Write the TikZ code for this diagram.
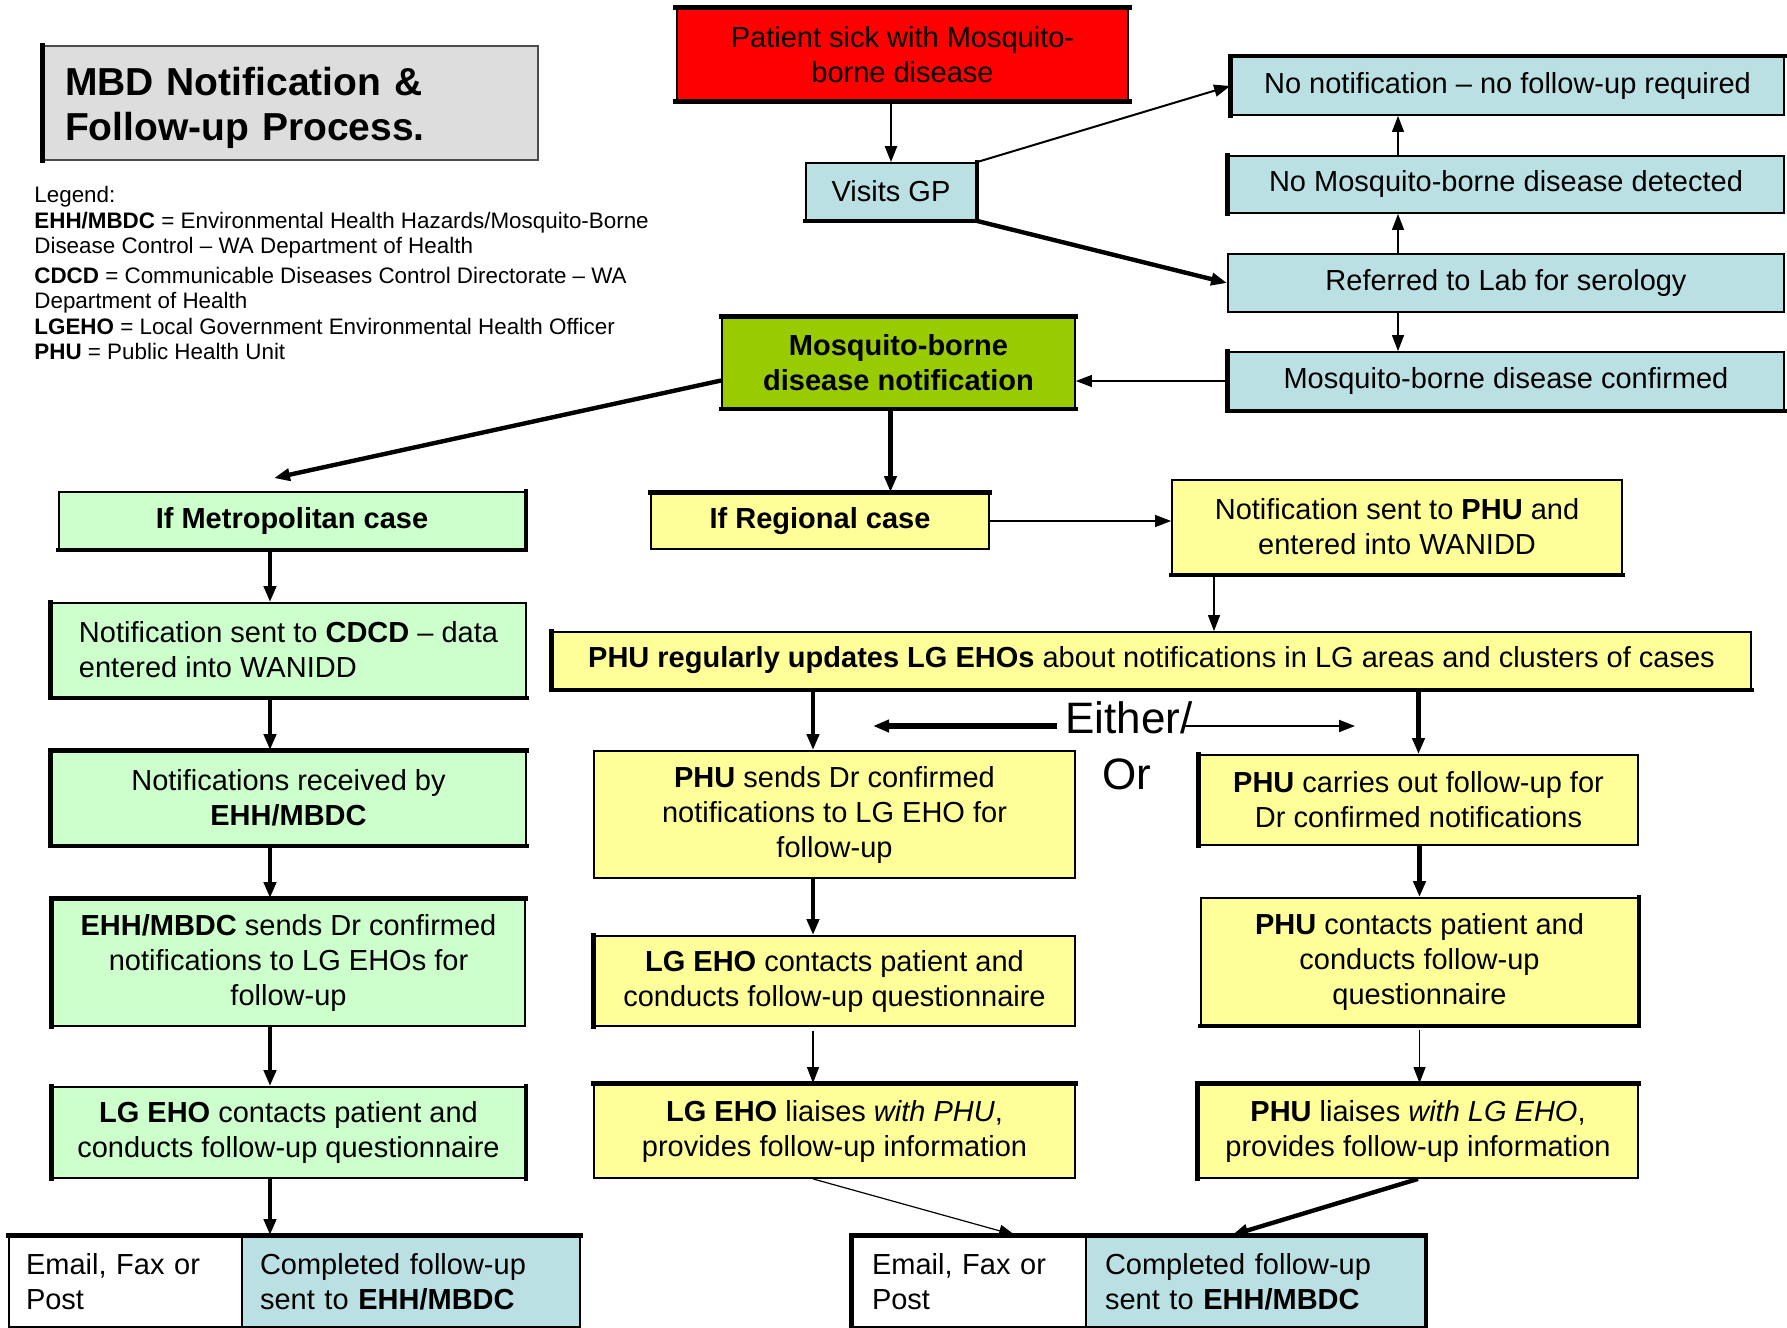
\documentclass[tikz,border=0pt]{standalone}
\usepackage{fontspec}
\setmainfont{Liberation Sans}
\usetikzlibrary{arrows.meta}
\definecolor{cred}{HTML}{FF0000}
\definecolor{cblue}{HTML}{BBE0E3}
\definecolor{clime}{HTML}{99CC00}
\definecolor{cgreen}{HTML}{CCFFCC}
\definecolor{cyellow}{HTML}{FFFF99}
\definecolor{cgray}{HTML}{DDDDDD}
\newcommand\boxfont{\fontsize{14.5}{17.5}\selectfont}
\begin{document}
\begin{tikzpicture}[x=0.5pt,y=-0.5pt,
  box/.style={draw=black, line width=0.9pt, align=center, inner sep=2pt, font=\boxfont},
  sh/.style={line width=2.4pt, line cap=rect},
  arr/.style={-{Triangle[length=8pt,width=6pt]}},
  thk/.style={arr, line width=2.2pt},
  med/.style={arr, line width=1.2pt},
  thn/.style={arr, line width=0.6pt},
]
\useasboundingbox[fill=white] (0,0) rectangle (1787,1327);

% title and legend
\node[box, fill=cgray, draw=black!70, line width=0.6pt, minimum height=57pt, text width=225.5pt, align=left, inner xsep=11pt,
  font=\fontsize{19.5}{22.8}\selectfont\bfseries] (title) at (290.5,103) {\rule{0pt}{19pt}MBD Notification \&\\Follow-up Process.};
\node[anchor=north west, inner sep=0pt, align=left, font=\fontsize{11.2}{12.5}\selectfont] (legend) at (34,186) {Legend:\\[0.5pt]
\textbf{EHH/MBDC} = Environmental Health Hazards/Mosquito-Borne\\
Disease Control – WA Department of Health\\[2.5pt]
\textbf{CDCD} = Communicable Diseases Control Directorate – WA\\
Department of Health\\[0.5pt]
\textbf{LGEHO} = Local Government Environmental Health Officer\\
\textbf{PHU} = Public Health Unit};

% top part
\node[box, fill=cred, minimum width=225.5pt, minimum height=45.5pt, line width=1.3pt] (red) at (902.5,54.5) {Patient sick with Mosquito-\\borne disease};
\node[box, fill=cblue, minimum width=85pt, minimum height=28.5pt] (gp) at (891,191.5) {Visits GP};
\node[box, fill=cblue, minimum width=276.5pt, minimum height=29pt] (nonot) at (1507.5,86) {No notification – no follow-up required};
\node[box, fill=cblue, minimum width=278pt, minimum height=28.5pt] (nodet) at (1506,184.5) {No Mosquito-borne disease detected};
\node[box, fill=cblue, minimum width=278pt, minimum height=29pt] (lab) at (1506,283) {Referred to Lab for serology};
\node[box, fill=cblue, minimum width=278pt, minimum height=29pt] (conf) at (1506,381) {Mosquito-borne disease confirmed};
\node[box, fill=clime, minimum width=176.5pt, minimum height=45.5pt, font=\boxfont\bfseries] (notif) at (898.5,362.5) {Mosquito-borne\\disease notification};

% metropolitan column
\node[box, fill=cgreen, minimum width=233pt, minimum height=28.5pt, font=\boxfont\bfseries] (metro) at (292,520.5) {If Metropolitan case};
\node[box, fill=cgreen, minimum width=237.5pt, minimum height=47pt, align=left] (cdcd) at (288.5,650) {Notification sent to \textbf{CDCD} – data\\entered into WANIDD};
\node[box, fill=cgreen, minimum width=237.5pt, minimum height=47pt] (recv) at (288.5,798) {Notifications received by\\\textbf{EHH/MBDC}};
\node[box, fill=cgreen, minimum width=236.5pt, minimum height=63.5pt] (ehhsend) at (288.5,962.5) {\textbf{EHH/MBDC} sends Dr confirmed\\notifications to LG EHOs for\\follow-up};
\node[box, fill=cgreen, minimum width=236.5pt, minimum height=45.5pt] (lgeho1) at (288.5,1132.5) {\textbf{LG EHO} contacts patient and\\conducts follow-up questionnaire};
\node[box, fill=white, minimum height=45.5pt, text width=99.5pt, inner xsep=8.5pt, align=left] (email1) at (125.5,1281.5) {Email, Fax or\\Post};
\node[box, fill=cblue, minimum height=45.5pt, text width=151pt, inner xsep=9pt, align=left] (comp1) at (411,1281.5) {Completed follow-up\\sent to \textbf{EHH/MBDC}};

% regional part
\node[box, fill=cyellow, minimum width=169pt, minimum height=28pt, font=\boxfont\bfseries] (regional) at (820,521) {If Regional case};
\node[box, fill=cyellow, minimum width=225pt, minimum height=47pt] (phunotif) at (1397,527) {Notification sent to \textbf{PHU} and\\entered into WANIDD};
\node[box, fill=cyellow, minimum width=599.5pt, minimum height=28.5pt] (phuupd) at (1151.5,660.5) {\textbf{PHU regularly updates LG EHOs} about notifications in LG areas and clusters of cases};
\node[box, fill=cyellow, minimum width=240.5pt, minimum height=63.5pt] (phusends) at (834.5,814.5) {\textbf{PHU} sends Dr confirmed\\notifications to LG EHO for\\follow-up};
\node[box, fill=cyellow, minimum width=219.5pt, minimum height=45pt] (phucarries) at (1418.5,800) {\textbf{PHU} carries out follow-up for\\Dr confirmed notifications};
\node[box, fill=cyellow, minimum width=240.5pt, minimum height=45pt] (lgeho2) at (834.5,981) {\textbf{LG EHO} contacts patient and\\conducts follow-up questionnaire};
\node[box, fill=cyellow, minimum width=218.5pt, minimum height=63.5pt] (phucontacts) at (1419.5,961.5) {\textbf{PHU} contacts patient and\\conducts follow-up\\questionnaire};
\node[box, fill=cyellow, minimum width=240.5pt, minimum height=47pt] (lgliaise) at (834.5,1131) {\textbf{LG EHO} liaises \textit{with PHU},\\provides follow-up information};
\node[box, fill=cyellow, minimum width=220pt, minimum height=47pt] (phuliaise) at (1418,1131) {\textbf{PHU} liaises \textit{with LG EHO},\\provides follow-up information};
\node[box, fill=white, minimum height=45.5pt, text width=97pt, inner xsep=10pt, align=left] (email2) at (969,1281.5) {Email, Fax or\\Post};
\node[box, fill=cblue, minimum height=45.5pt, text width=150.5pt, inner xsep=9.5pt, align=left] (comp2) at (1255.5,1281.5) {Completed follow-up\\sent to \textbf{EHH/MBDC}};

\node[inner sep=0pt, font=\fontsize{22}{24}\selectfont] (either) at (1129,718) {Either/};
\node[inner sep=0pt, font=\fontsize{22}{24}\selectfont] (or) at (1127,774) {Or};

% heavy edges (shadow look)
\draw[sh] (title.north west) -- (title.south west);
\draw[sh] (red.north west) -- (red.north east);
\draw[sh] (red.south west) -- (red.south east);
\draw[sh] (gp.south west) -- (gp.south east) -- (gp.north east);
\draw[sh] (nonot.south west) -- (nonot.north west) -- (nonot.north east);
\draw[sh] (nodet.north west) -- (nodet.south west);
\draw[sh] (conf.north west) -- (conf.south west) -- (conf.south east);
\draw[sh] (notif.north west) -- (notif.north east);
\draw[sh] (notif.south west) -- (notif.south east);
\draw[sh] (metro.north east) -- (metro.south east) -- (metro.south west);
\draw[sh] (cdcd.north west) -- (cdcd.south west) -- (cdcd.south east);
\draw[sh] (recv.north east) -- (recv.north west) -- (recv.south west) -- (recv.south east);
\draw[sh] (ehhsend.south west) -- (ehhsend.north west) -- (ehhsend.north east);
\draw[sh] (lgeho1.north west) -- (lgeho1.south west);
\draw[sh] (lgeho1.north east) -- (lgeho1.south east);
\draw[sh] (email1.north west) -- (comp1.north east);
\draw[sh] (regional.north west) -- (regional.north east);
\draw[sh] (phunotif.south west) -- (phunotif.south east);
\draw[sh] (phuupd.north west) -- (phuupd.south west) -- (phuupd.south east);
\draw[sh] (phucarries.north west) -- (phucarries.south west);
\draw[sh] (lgeho2.north west) -- (lgeho2.south west);
\draw[sh] (phucontacts.south west) -- (phucontacts.south east) -- (phucontacts.north east);
\draw[sh] (lgliaise.north west) -- (lgliaise.north east);
\draw[sh] (phuliaise.south west) -- (phuliaise.north west) -- (phuliaise.north east);
\draw[sh] (email2.south west) -- (email2.north west) -- (comp2.north east) -- (comp2.south east);

% helper coordinates
\coordinate (xa) at (1398,0);
\coordinate (xg) at (270,0);
\coordinate (xp) at (1214,0);
\coordinate (xs) at (813,0);
\coordinate (eL) at (873,726);
\coordinate (eR) at (1355,726);

% connectors
\draw[med] (red.south -| gp.north) -- (gp.north);
\draw[thn, line width=1pt] (gp.north east) -- (nonot.west);
\draw[thk] (gp.south east) -- (lab.west);
\draw[thn] (lab.north -| xa) -- (nodet.south -| xa);
\draw[thn] (nodet.north -| xa) -- (nonot.south -| xa);
\draw[thn] (lab.south -| xa) -- (conf.north -| xa);
\draw[thn] (conf.west) -- (conf.west -| notif.east);
\draw[thk] ([yshift=-9pt]notif.west) -- ([xshift=-9pt,yshift=6.5pt]metro.north);
\draw[thk] ([xshift=-4pt]notif.south) -- ([xshift=-4pt]notif.south |- regional.north);
\draw[thk] (metro.south -| xg) -- (cdcd.north -| xg);
\draw[thk] (cdcd.south -| xg) -- (recv.north -| xg);
\draw[thk] (recv.south -| xg) -- (ehhsend.north -| xg);
\draw[thk] (ehhsend.south -| xg) -- (lgeho1.north -| xg);
\draw[thk] (lgeho1.south -| xg) -- (comp1.north -| xg);
\draw[thn] (regional.east) -- (regional.east -| phunotif.west);
\draw[thn] (phunotif.south -| xp) -- (phuupd.north -| xp);
\draw[thk] (phuupd.south -| xs) -- (phusends.north -| xs);
\draw[thk] (phuupd.south -| phucarries.north) -- (phucarries.north);
\draw[thk, line width=2.8pt] ([xshift=-4pt]either.west |- eL) -- (eL);
\draw[thn, line width=1pt] ([xshift=-4pt]either.east |- eR) -- (eR);
\draw[thk] (phusends.south -| xs) -- (lgeho2.north -| xs);
\draw[thk] (phucarries.south -| phucontacts.north) -- (phucontacts.north);
\draw[thn] ([yshift=-2pt]lgeho2.south -| xs) -- (lgliaise.north -| xs);
\draw[thn] ([yshift=-2pt]phucontacts.south) -- (phucontacts.south |- phuliaise.north);
\draw[thn] (lgliaise.south -| xs) -- ([xshift=23pt]email2.north);
\draw[thk] (phuliaise.south) -- ([xshift=-11.75pt]comp2.north);
\end{tikzpicture}
\end{document}
